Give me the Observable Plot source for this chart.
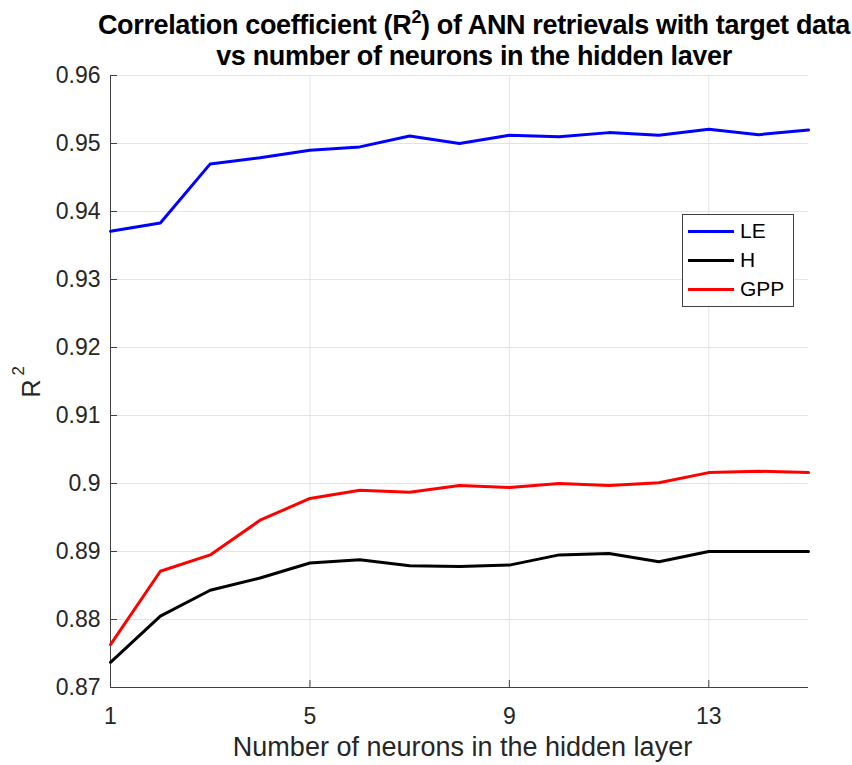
<!DOCTYPE html>
<html><head><meta charset="utf-8">
<script src="https://cdn.jsdelivr.net/npm/d3@7"></script>
<script src="https://cdn.jsdelivr.net/npm/@observablehq/plot@0.6"></script>
<style>
body{margin:0;background:#fff;font-family:"Liberation Sans",Arial,sans-serif;}
#wrap{position:relative;width:852px;height:765px;overflow:hidden;}
#title{position:absolute;left:54px;width:840px;top:10px;text-align:center;font-weight:bold;font-size:27px;line-height:31px;color:#000;letter-spacing:-0.35px;white-space:nowrap;}
#title sup{font-size:18px;line-height:0;vertical-align:11px;}
#chart{position:absolute;left:0;top:65px;}
#legend{position:absolute;left:682px;top:214px;width:112px;height:93px;border:1px solid #404040;background:#fff;box-sizing:border-box;font-size:21px;color:#000;}
#legend .row{position:absolute;left:5px;height:24px;display:flex;align-items:center;}
#legend .sw{width:46px;height:3px;margin-right:6px;}
</style></head>
<body><div id="wrap">
<div id="title">Correlation coefficient (R<sup>2</sup>) of ANN retrievals with target data<br>vs number of neurons in the hidden layer</div>
<div id="chart"></div>
<div id="legend"></div>
</div>
<script>
const neurons = [1,2,3,4,5,6,7,8,9,10,11,12,13,14,15];
const LE  = [0.9371,0.9383,0.9470,0.9479,0.9490,0.9495,0.9511,0.9500,0.9512,0.9510,0.9516,0.9512,0.9521,0.9513,0.9520];
const H   = [0.8737,0.8805,0.8843,0.8861,0.8883,0.8888,0.8879,0.8878,0.8880,0.8895,0.8897,0.8885,0.8900,0.8900,0.8900];
const GPP = [0.8763,0.8871,0.8895,0.8946,0.8978,0.8990,0.8987,0.8997,0.8994,0.9000,0.8997,0.9001,0.9016,0.9018,0.9016];
const seriesNames = ["LE","H","GPP"];
const seriesColors = ["#0000ff","#000000","#ff0000"];
const xTicks = [1,5,9,13];
const yTicks = [0.87,0.88,0.89,0.90,0.91,0.92,0.93,0.94,0.95,0.96];

const vals = {LE, H, GPP};
const data = seriesNames.flatMap(s => neurons.map((n,i) => ({n, v: vals[s][i], s})));

const chart = Plot.plot({
  width: 852, height: 700,
  marginTop: 10, marginBottom: 78, marginLeft: 110, marginRight: 44,
  style: {fontFamily: '"Liberation Sans", Arial, sans-serif', fontSize: "23px", color: "#262626", background: "#fff", overflow: "visible"},
  x: {type: "linear", domain: [1,15]},
  y: {type: "linear", domain: [0.87,0.96]},
  color: {domain: seriesNames, range: seriesColors},
  marks: [
    Plot.gridX(xTicks, {stroke: "#e3e3e3", strokeOpacity: 1}),
    Plot.gridY(yTicks, {stroke: "#e3e3e3", strokeOpacity: 1}),
    Plot.axisX(xTicks, {tickSize: 0, tickPadding: 20, fontSize: 23, label: null, fill: "#262626"}),
    Plot.axisY(yTicks, {tickSize: 0, tickPadding: 10, fontSize: 23, label: null, fill: "#262626", tickFormat: d3.format("~g")}),
    Plot.axisX(xTicks, {tickSize: -7, tickFormat: () => "", label: null, stroke: "#404040"}),
    Plot.axisY(yTicks, {tickSize: -7, tickFormat: () => "", label: null, stroke: "#404040"}),
    Plot.ruleY([0.87], {stroke: "#404040", strokeWidth: 1}),
    Plot.ruleX([1], {stroke: "#404040", strokeWidth: 1}),
    Plot.line(data, {x: "n", y: "v", stroke: "s", z: "s", strokeWidth: 3}),
    Plot.text(["Number of neurons in the hidden layer"], {frameAnchor: "bottom", dx: 3, dy: 68, fontSize: 27, fill: "#262626", text: d => d}),
    Plot.text(["R"], {frameAnchor: "left", dx: -79, dy: 16, rotate: -90, fontSize: 25, fill: "#262626", text: d => d}),
    Plot.text(["2"], {frameAnchor: "left", dx: -92, dy: -6, rotate: -90, fontSize: 17, fill: "#262626", text: d => d})
  ]
});
document.getElementById("chart").appendChild(chart);

const lg = document.getElementById("legend");
seriesNames.forEach((s,i) => {
  const r = document.createElement("div");
  r.className = "row";
  r.style.top = (4 + i*29) + "px";
  r.innerHTML = `<span class="sw" style="background:${seriesColors[i]}"></span><span>${s}</span>`;
  lg.appendChild(r);
});
</script>
</body></html>
